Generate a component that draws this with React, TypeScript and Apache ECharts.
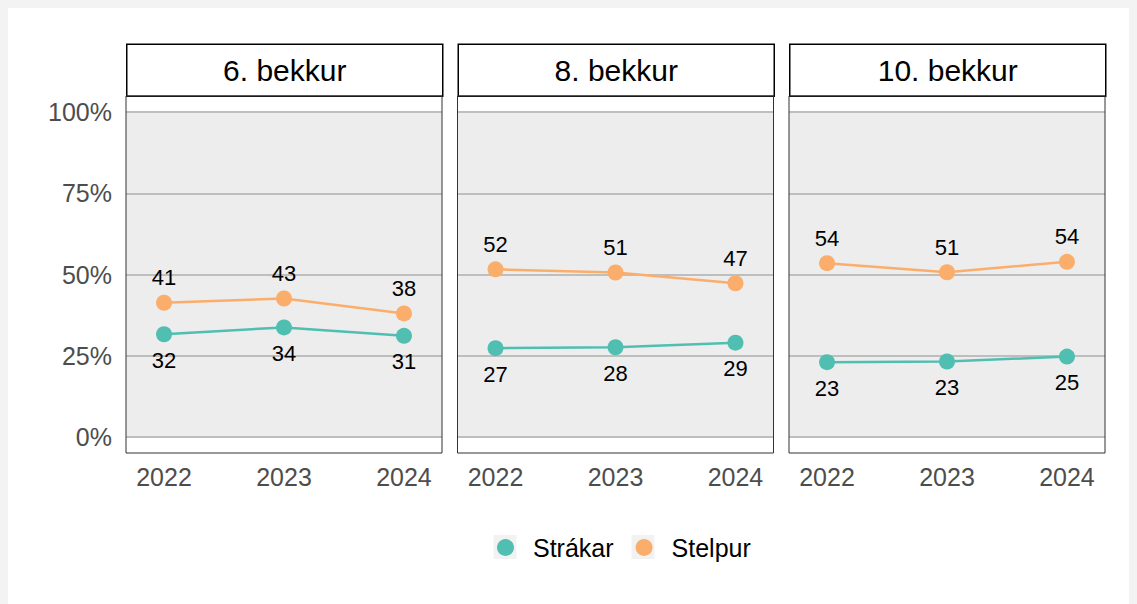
import React, { useEffect, useRef } from "react";
import * as echarts from "echarts";

const years = [2022, 2023, 2024];
const grades = ["6. bekkur", "8. bekkur", "10. bekkur"];
const seriesNames = ["Strákar", "Stelpur"];
const yTicks = [0, 25, 50, 75, 100];

const strakar6 = [31.6, 33.7, 31.1];
const stelpur6 = [41.3, 42.6, 38.0];
const strakar8 = [27.3, 27.6, 29.0];
const stelpur8 = [51.6, 50.6, 47.3];
const strakar10 = [23.0, 23.2, 24.7];
const stelpur10 = [53.5, 50.7, 53.9];

const strakarByGrade = [strakar6, strakar8, strakar10];
const stelpurByGrade = [stelpur6, stelpur8, stelpur10];

const COLORS = ["#50bfb1", "#fbae6b"];
const FONT = "Liberation Sans, Arial, sans-serif";

const PANEL_LEFTS = [118, 449.5, 781];
const PANEL_W = 316;
const PANEL_TOP = 88;
const PANEL_H = 357;
const STRIP_TOP = 35.5;
const STRIP_H = 52;

export default function App() {
  const ref = useRef<HTMLDivElement>(null);
  useEffect(() => {
    document.body.style.backgroundColor = "#f3f3f3";
    const chart = echarts.init(ref.current!, null, { renderer: "svg" });
    const grid: any[] = [];
    const xAxis: any[] = [];
    const yAxis: any[] = [];
    const series: any[] = [];
    const graphic: any[] = [];

    grades.forEach((g, i) => {
      grid.push({
        left: PANEL_LEFTS[i],
        top: PANEL_TOP,
        width: PANEL_W,
        height: PANEL_H,
        show: true,
        borderColor: "#333333",
        borderWidth: 1,
        backgroundColor: "transparent",
        z: 5,
      });
      xAxis.push({
        type: "value",
        gridIndex: i,
        min: 2021.683,
        max: 2024.317,
        axisLine: { show: false },
        axisTick: { show: false, customValues: years },
        splitLine: { show: false },
        axisLabel: {
          customValues: years,
          color: "#4d4d4d",
          fontSize: 25,
          fontFamily: FONT,
          margin: 11,
          formatter: (v: number) => String(v),
        },
      });
      yAxis.push({
        type: "value",
        gridIndex: i,
        min: -5,
        max: 105,
        axisLine: { show: false },
        axisTick: { show: false, customValues: yTicks },
        splitLine: { show: false },
        axisLabel: {
          show: i === 0,
          customValues: yTicks,
          color: "#4d4d4d",
          fontSize: 25,
          fontFamily: FONT,
          margin: 14,
          formatter: (v: number) => v + "%",
        },
      });
      // panel fill 0..100%
      series.push({
        name: "bg" + i,
        type: "line",
        xAxisIndex: i,
        yAxisIndex: i,
        data: [],
        z: 1,
        silent: true,
        markArea: {
          silent: true,
          z: 1,
          itemStyle: { color: "#ededed" },
          data: [[{ yAxis: 0 }, { yAxis: 100 }]],
        },
      });
      series.push({
        name: "gl" + i,
        type: "line",
        xAxisIndex: i,
        yAxisIndex: i,
        data: [],
        z: 1.5,
        silent: true,
        markLine: {
          silent: true,
          z: 1.5,
          symbol: "none",
          label: { show: false },
          lineStyle: { color: "#bebebe", width: 2, type: "solid" },
          data: yTicks.map((t) => ({ yAxis: t })),
        },
      });
      const sets = [strakarByGrade[i], stelpurByGrade[i]];
      sets.forEach((vals, k) => {
        series.push({
          name: seriesNames[k],
          type: "line",
          xAxisIndex: i,
          yAxisIndex: i,
          z: 3,
          data: years.map((y, j) => [y, vals[j]]),
          symbol: "circle",
          symbolSize: 16,
          itemStyle: { color: COLORS[k] },
          lineStyle: { color: COLORS[k], width: 2.5 },
          label: {
            show: true,
            position: k === 0 ? "bottom" : "top",
            distance: k === 0 ? 7 : 6,
            color: "#000",
            fontSize: 22,
            fontFamily: FONT,
            formatter: (p: any) => String(Math.round(p.value[1])),
          },
        });
      });
      graphic.push({
        type: "group",
        left: PANEL_LEFTS[i],
        top: STRIP_TOP,
        children: [
          {
            type: "rect",
            shape: { x: 0, y: 0, width: PANEL_W, height: STRIP_H },
            style: { fill: "#ffffff", stroke: "#000000", lineWidth: 1.5 },
          },
          {
            type: "text",
            x: PANEL_W / 2,
            y: STRIP_H / 2,
            style: {
              text: g,
              fill: "#000",
              fontSize: 30,
              fontFamily: FONT,
              align: "center",
              verticalAlign: "middle",
            },
          },
        ],
      });
    });

    // legend key backgrounds
    [497, 635].forEach((cx) => {
      graphic.push({
        type: "rect",
        z: -1,
        shape: { x: cx - 11.5, y: 527, width: 23, height: 24 },
        style: { fill: "#f2f2f2" },
      });
    });

    chart.setOption({
      animation: false,
      backgroundColor: "#ffffff",
      grid,
      xAxis,
      yAxis,
      series,
      graphic,
      legend: {
        data: seriesNames,
        left: 484,
        top: 522,
        icon: "circle",
        itemWidth: 17,
        itemHeight: 17,
        itemGap: 22,
        textStyle: {
          color: "#000",
          fontSize: 25,
          fontFamily: FONT,
          padding: [0, 0, 0, 14],
        },
      },
    });
    return () => chart.dispose();
  }, []);
  return <div ref={ref} style={{ width: 1129, height: 596, background: "#fff" }} />;
}
